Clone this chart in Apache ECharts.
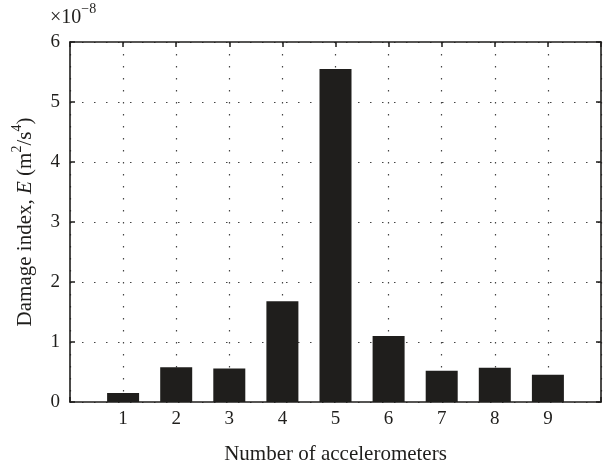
<!DOCTYPE html>
<html>
<head>
<meta charset="utf-8">
<script src="https://cdn.jsdelivr.net/npm/echarts@6/dist/echarts.min.js"></script>
<style>
  html, body { margin: 0; padding: 0; background: #fff; }
  #chart { width: 606px; height: 470px; }
</style>
</head>
<body>
<div id="chart"></div>
<script>
// Damage index per accelerometer, in units of 1e-8 m^2/s^4
const accelerometers = [1, 2, 3, 4, 5, 6, 7, 8, 9];
const damageIndex = [0.15, 0.58, 0.56, 1.68, 5.55, 1.10, 0.52, 0.57, 0.455];
const yTicks = [0, 1, 2, 3, 4, 5, 6];

const FONT = '"Liberation Serif", "DejaVu Serif", serif';
const INK = '#1f1e1c';

const dotted = { color: '#444', width: 1.2, type: [1.5, 10.5] };
const frameLine = { show: true, onZero: false, lineStyle: { color: INK, width: 1.6 } };
const frameTick = { show: true, inside: true, length: 5, lineStyle: { color: INK, width: 1.5 } };

const barData = accelerometers.map((a, i) => [a, damageIndex[i]]);

const chart = echarts.init(document.getElementById('chart'), null, { renderer: 'canvas' });

chart.setOption({
  animation: false,
  backgroundColor: '#fff',
  textStyle: { fontFamily: FONT },
  grid: { left: 70, right: 5, top: 42, bottom: 63 },
  xAxis: [
    {
      type: 'value', min: 0, max: 10, interval: 1,
      name: 'Number of accelerometers', nameLocation: 'middle', nameGap: 42,
      nameTextStyle: { fontFamily: FONT, fontSize: 21, color: INK },
      axisLine: frameLine,
      axisTick: frameTick,
      axisLabel: {
        fontFamily: FONT, fontSize: 19, color: INK, margin: 8,
        formatter: v => (accelerometers.includes(v) ? String(v) : '')
      },
      splitLine: { show: true, lineStyle: dotted }
    },
    {
      type: 'value', min: 0, max: 10, interval: 1, position: 'top',
      axisLine: frameLine,
      axisTick: frameTick,
      axisLabel: { show: false },
      splitLine: { show: false }
    }
  ],
  yAxis: [
    {
      type: 'value', min: yTicks[0], max: yTicks[yTicks.length - 1], interval: 1,
      name: '{t|Damage index, }{i|E}{t| (m}{s|2}{t|/s}{s|4}{t|)}',
      nameLocation: 'middle', nameGap: 34,
      nameTextStyle: {
        color: INK,
        rich: {
          t: { fontFamily: FONT, fontSize: 21, color: INK, lineHeight: 26, verticalAlign: 'bottom' },
          i: { fontFamily: FONT, fontSize: 21, fontStyle: 'italic', color: INK, lineHeight: 26, verticalAlign: 'bottom' },
          s: { fontFamily: FONT, fontSize: 14, color: INK, lineHeight: 26, verticalAlign: 'top' }
        }
      },
      axisLine: frameLine,
      axisTick: frameTick,
      axisLabel: { fontFamily: FONT, fontSize: 19, color: INK, margin: 10 },
      splitLine: { show: true, lineStyle: dotted }
    },
    {
      type: 'value', min: yTicks[0], max: yTicks[yTicks.length - 1], interval: 1, position: 'right',
      axisLine: frameLine,
      axisTick: frameTick,
      axisLabel: { show: false },
      splitLine: { show: false }
    }
  ],
  graphic: [
    {
      type: 'text', left: 50, top: 2,
      style: {
        text: '{t|×10}{s|−8}',
        rich: {
          t: { fontFamily: FONT, fontSize: 20, fill: INK, lineHeight: 26, verticalAlign: 'bottom' },
          s: { fontFamily: FONT, fontSize: 14, fill: INK, lineHeight: 26, verticalAlign: 'top' }
        }
      }
    }
  ],
  series: [
    {
      type: 'bar',
      data: barData,
      barWidth: 32,
      itemStyle: { color: INK },
      silent: true
    }
  ]
});
</script>
</body>
</html>
